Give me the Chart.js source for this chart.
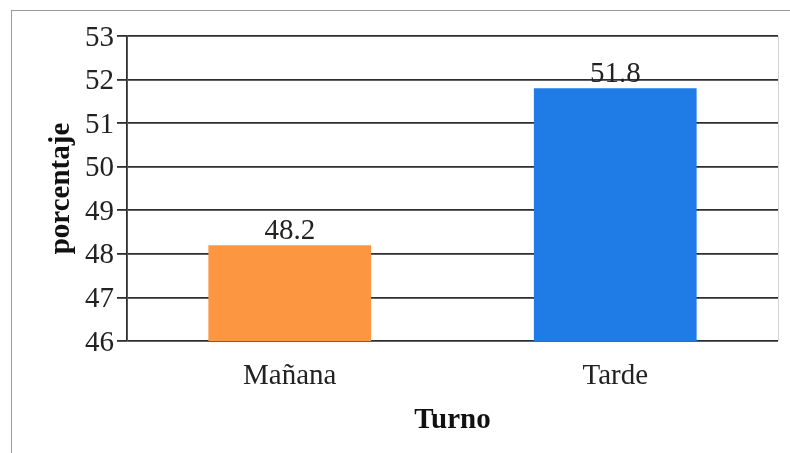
<!DOCTYPE html>
<html>
<head>
<meta charset="utf-8">
<script src="https://cdn.jsdelivr.net/npm/chart.js@4/dist/chart.umd.min.js"></script>
<style>
  html, body { margin: 0; padding: 0; background: #fff; overflow: hidden; }
  #wrap { position: relative; width: 790px; height: 453px; }
  #frame { position: absolute; left: 11px; top: 10px; width: 820px; height: 500px; border: 1.5px solid #9a9a9a; }
  canvas { position: absolute; left: 0; top: 0; }
</style>
</head>
<body>
<div id="wrap">
  <div id="frame"></div>
  <canvas id="turnoChart" width="790" height="453"></canvas>
</div>
<script>
const turnos = ['Mañana', 'Tarde'];
const porcentajes = [48.2, 51.8];
const colores = ['#FC9640', '#1F7BE6'];
const yMin = 46;
const yMax = 53;

const serif = '"Liberation Serif", "Times New Roman", serif';

// value printed above each bar
const valueLabels = {
    id: 'valueLabels',
    afterDatasetsDraw(chart) {
        const ctx = chart.ctx;
        const meta = chart.getDatasetMeta(0);
        ctx.save();
        ctx.font = '29px ' + serif;
        ctx.fillStyle = '#222';
        ctx.textAlign = 'center';
        ctx.textBaseline = 'alphabetic';
        meta.data.forEach((bar, i) => {
            ctx.fillText(porcentajes[i].toFixed(1), bar.x, bar.y - 6);
        });
        ctx.restore();
    }
};

// thin light edge on the right side of the plot
const plotEdge = {
    id: 'plotEdge',
    beforeDatasetsDraw(chart) {
        const { ctx, chartArea } = chart;
        ctx.save();
        ctx.strokeStyle = '#d4d4d4';
        ctx.lineWidth = 1;
        ctx.beginPath();
        ctx.moveTo(chartArea.right + 0.5, chartArea.top);
        ctx.lineTo(chartArea.right + 0.5, chartArea.bottom);
        ctx.stroke();
        ctx.restore();
    }
};

new Chart(document.getElementById('turnoChart'), {
    type: 'bar',
    data: {
        labels: turnos,
        datasets: [{
            data: porcentajes,
            backgroundColor: colores,
            borderWidth: 0,
            barPercentage: 0.5,
            categoryPercentage: 1.0
        }]
    },
    options: {
        responsive: false,
        animation: false,
        layout: { padding: { top: 36, right: 12, bottom: 0, left: 0 } },
        plugins: {
            legend: { display: false },
            tooltip: { enabled: false }
        },
        scales: {
            x: {
                grid: { display: false, drawTicks: false },
                border: { display: false },
                ticks: {
                    font: { family: serif, size: 29 },
                    color: '#222',
                    padding: 18
                },
                title: {
                    display: true,
                    text: 'Turno',
                    font: { family: serif, size: 29, weight: 'bold' },
                    color: '#111',
                    padding: { top: 0, bottom: 15 }
                },
                afterFit(scale) { scale.height = 112; }
            },
            y: {
                min: yMin,
                max: yMax,
                grid: {
                    color: '#2e2e2e',
                    lineWidth: 1.8,
                    tickLength: 10,
                    drawTicks: true
                },
                border: { display: true, color: '#2e2e2e', width: 1.8 },
                ticks: {
                    stepSize: 1,
                    font: { family: serif, size: 29 },
                    color: '#222',
                    padding: 3,
                    labelOffset: 2
                },
                title: {
                    display: true,
                    text: 'porcentaje',
                    font: { family: serif, size: 29, weight: 'bold' },
                    color: '#111',
                    padding: { top: 44, bottom: 0 }
                },
                afterFit(scale) { scale.width = 127; }
            }
        }
    },
    plugins: [valueLabels, plotEdge]
});
</script>
</body>
</html>
